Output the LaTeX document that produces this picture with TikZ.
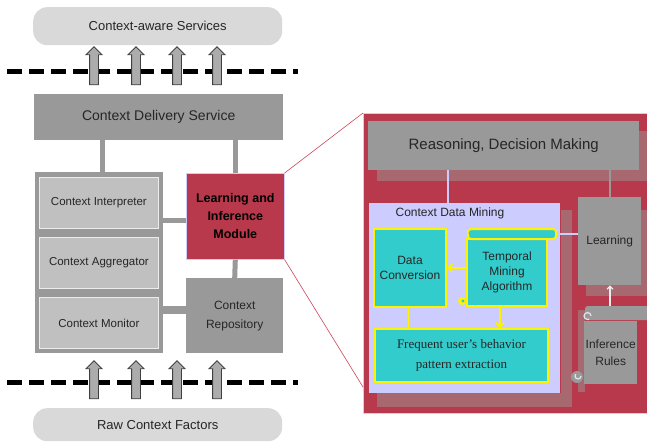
\documentclass[tikz,border=0pt]{standalone}
\usepackage{fontspec}
\setmainfont{Liberation Sans}
\newfontfamily\timesfam{Liberation Serif}
\usetikzlibrary{arrows.meta,shapes.arrows}
\definecolor{boxgray}{HTML}{999999}
\definecolor{lightgray}{HTML}{C0C0C0}
\definecolor{crimson}{HTML}{B8394B}
\definecolor{lavender}{HTML}{CCCCFF}
\definecolor{teal}{HTML}{33CCCC}
\definecolor{cloudgray}{HTML}{D9D9D9}
\definecolor{dither}{RGB}{167,104,112}
\definecolor{zoomred}{RGB}{205,70,90}
\tikzset{
  box/.style={anchor=north west, fill=boxgray, inner sep=0pt, align=center, text=black!85},
  lightbox/.style={box, fill=lightgray, draw=white!85!gray, line width=0.8pt, font=\fontsize{11.5}{13}\selectfont},
  cloud/.style={box, fill=cloudgray, rounded corners=14pt, font=\fontsize{13}{15}\selectfont},
  minebox/.style={box, fill=teal, draw=yellow, line width=2pt},
  uparrow/.style={shape=single arrow, shape border rotate=90, draw=black!75, fill=gray!65,
    minimum height=38pt, minimum width=15pt, inner sep=4pt, single arrow head extend=3.5pt,
    single arrow head indent=0pt, line width=0.8pt},
  barrier/.style={line width=5pt, dash pattern=on 15pt off 7pt},
  link/.style={boxgray, line width=5pt},
  zoomline/.style={zoomred, line width=0.6pt},
  ylink/.style={yellow, line width=1.8pt, -{Straight Barb[length=4pt,width=8pt]}},
}
\begin{document}
\begin{tikzpicture}[x=1pt,y=-1pt]
\useasboundingbox (0,0) rectangle (647,445);
% left side
\node[cloud, minimum width=249pt, minimum height=38pt] (cas) at (33,7) {Context-aware Services};
\draw[barrier] (7,71) -- (298,71);
\foreach \x [count=\i] in {94,136,177,217}
  \node[uparrow] (uo\i) at (\x,68) {};
\node[box, minimum width=249pt, minimum height=46pt, font=\fontsize{14}{16}\selectfont] (cds) at (34,94) {Context Delivery Service};
\node[box, minimum width=128pt, minimum height=181pt] (layer) at (35,172) {};
\node[lightbox, minimum width=119pt, minimum height=51pt] (ci) at (39,177) {Context Interpreter};
\node[lightbox, minimum width=119pt, minimum height=51pt] (ca) at (39,237) {Context Aggregator};
\node[lightbox, minimum width=119pt, minimum height=51pt] (cm) at (39,297) {Context Monitor};
\node[box, fill=crimson, draw=lavender, line width=0.6pt, minimum width=98pt, minimum height=86pt,
  font=\fontsize{12.5}{18}\selectfont\bfseries, text=black] (lim) at (186,173) {Learning and\\Inference\\Module};
\node[box, minimum width=97pt, minimum height=75pt, font=\fontsize{12}{19}\selectfont] (crep) at (186,278) {Context\\Repository};
\draw[link] (cds.south -| 102,0) -- (layer.north -| 102,0);
\draw[link] (cds.south -| lim.north) -- (lim.north);
\draw[link] (layer.east |- 0,220) -- (lim.west |- 0,220);
\draw[link] (lim.south) -- (crep.north);
\draw[boxgray, line width=8pt] (layer.east |- 0,310) -- (crep.west |- 0,310);
\draw[barrier] (7,382) -- (298,382);
\foreach \x [count=\i] in {94,136,177,217}
  \node[uparrow] (ui\i) at (\x,382) {};
\node[cloud, minimum width=249pt, minimum height=33pt] (rcf) at (33,408) {Raw Context Factors};
% zoomed panel
\node[box, fill=crimson, draw=lavender, line width=0.8pt, minimum width=290pt, minimum height=300pt] (panel) at (363,113) {};
\draw[zoomline] (lim.north east) -- (panel.north west);
\draw[zoomline] (lim.south east) -- (363,387);
\fill[dither] (377,170) rectangle (650,181);
\fill[dither] (639,131) rectangle (650,181);
\node[box, minimum width=271pt, minimum height=49pt, font=\fontsize{15}{17}\selectfont] (rdm) at (368,121) {Reasoning, Decision Making};
\fill[dither] (561,210) rectangle (572,407);
\fill[dither] (377,393) rectangle (572,407);
\fill[dither] (586,285) rectangle (650,296);
\fill[dither] (641,210) rectangle (650,296);
\fill[dither] (578,310) rectangle (585,392);
\node[box, fill=lavender, minimum width=191pt, minimum height=190pt] (cdm) at (369,203) {};
\node[anchor=center, font=\fontsize{12}{14}\selectfont, text=black!85] (cdmt) at (450,213) {Context Data Mining};
\node[box, minimum width=63pt, minimum height=88pt, font=\fontsize{12}{14}\selectfont] (learn) at (578,197) {Learning};
\draw[lavender, line width=1.5pt] (rdm.south -| 448,0) -- (cdm.north -| 448,0);
\draw[boxgray, line width=2pt] (rdm.south -| learn.north) -- (learn.north);
% inference rules scroll
\node[box, minimum width=53pt, minimum height=63pt, font=\fontsize{12}{17}\selectfont] (rules) at (584,321) {Inference\\Rules};
\node[box, rounded corners=2pt, minimum width=65pt, minimum height=14pt] (rulestop) at (585,306) {};
\draw[white!80!gray, line width=1.2pt] (591,316) arc (0:300:3.5pt);
\fill[boxgray] (577,377) circle (6pt);
\draw[white!80!gray, line width=1.2pt] (581,376) arc (0:-220:3pt);
\draw[white!85!gray, line width=1.2pt, -{Straight Barb[length=3pt,width=6pt]}] (rulestop.north -| 610,0) -- (learn.south -| 610,0);
% mining boxes
\node[minebox, minimum width=72pt, minimum height=78pt, font=\fontsize{12}{15}\selectfont] (dc) at (373,228) {Data\\Conversion};
\node[minebox, minimum width=80pt, minimum height=67pt, font=\fontsize{12}{15}\selectfont] (tma) at (466,238) {Temporal\\Mining\\Algorithm};
\node[minebox, rounded corners=3pt, minimum width=88pt, minimum height=10pt] (tmatop) at (467,228) {};
\fill[yellow] (462,301) circle (4pt);
\fill[teal] (463,301) circle (1.7pt);
\fill[teal] (470,233) circle (1.7pt);
\node[minebox, minimum width=173pt, minimum height=53pt, font=\timesfam\fontsize{13}{20}\selectfont] (fue) at (374,328) {Frequent user’s behavior\\pattern extraction};
\draw[lavender, line width=1.5pt] (tmatop.east) -- (learn.west |- tmatop.east);
\draw[ylink] (tma.west |- 0,268) -- (dc.east |- 0,268);
\draw[ylink] (tma.south -| 500,0) -- (fue.north -| 500,0);
\draw[yellow, line width=1pt] (dc.south -| 408,0) -- (fue.north -| 408,0);
\end{tikzpicture}
\end{document}
